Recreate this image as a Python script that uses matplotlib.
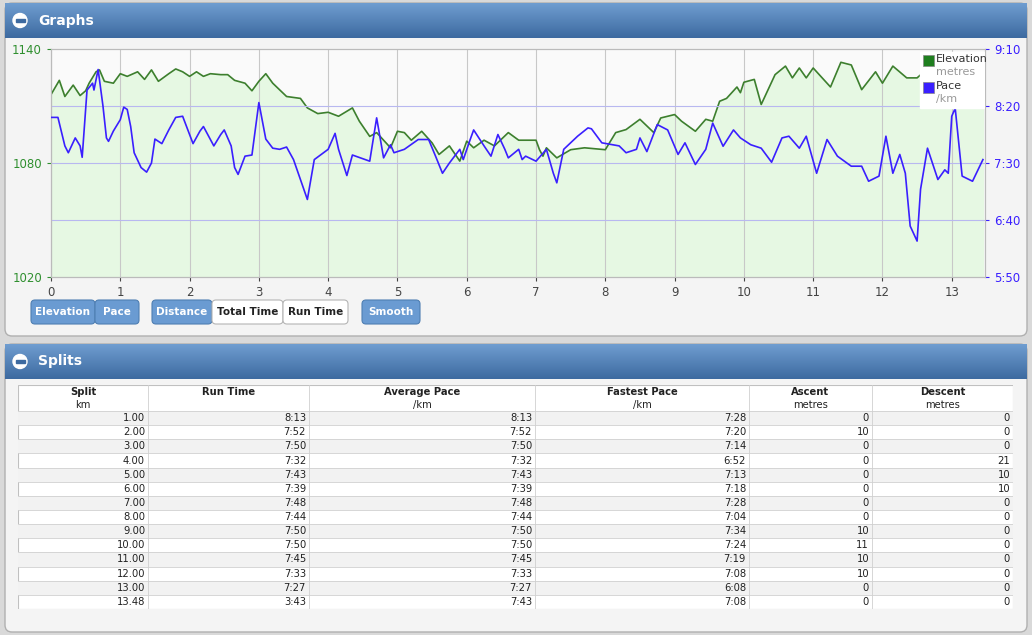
import numpy as np
import matplotlib.pyplot as plt
from matplotlib.patches import FancyBboxPatch, Rectangle, Circle

# ----------------------------
# Data
# ----------------------------
elev_km = [0, 0.12, 0.2, 0.32, 0.42, 0.5, 0.55, 0.65, 0.7, 0.77, 0.9, 1.0, 1.1, 1.25, 1.35,
           1.45, 1.55, 1.7, 1.8, 1.9, 2.0, 2.1, 2.2, 2.3, 2.45, 2.55, 2.65, 2.8, 2.9, 3.0,
           3.1, 3.2, 3.4, 3.6, 3.7, 3.85, 4.0, 4.15, 4.35, 4.45, 4.6, 4.7, 4.9, 5.0, 5.1,
           5.2, 5.35, 5.5, 5.6, 5.75, 5.9, 6.0, 6.1, 6.25, 6.4, 6.6, 6.75, 7.0, 7.05, 7.1,
           7.15, 7.3, 7.5, 7.7, 8.0, 8.15, 8.3, 8.5, 8.7, 8.8, 9.0, 9.1, 9.3, 9.45, 9.55,
           9.65, 9.75, 9.9, 9.95, 10.0, 10.15, 10.25, 10.45, 10.6, 10.7, 10.8, 10.9, 11.0,
           11.25, 11.4, 11.55, 11.7, 11.9, 12.0, 12.15, 12.35, 12.5, 12.6, 12.8, 13.0,
           13.2, 13.45]
elev_m = [1116, 1123.5, 1115, 1121, 1115.5, 1118, 1122, 1128, 1129, 1123, 1122, 1127, 1125.6,
          1128, 1124, 1129, 1123, 1127, 1129.5, 1128, 1125.6, 1128, 1125.6, 1127, 1126.5,
          1126.5, 1123.5, 1122, 1118, 1123, 1127, 1122, 1115, 1114, 1109, 1106, 1106.7,
          1104.6, 1109, 1102, 1094, 1096, 1088, 1096.7, 1096, 1092, 1096.7, 1090.6, 1084.5,
          1089, 1081, 1091.5, 1088, 1092, 1089, 1096, 1092, 1092, 1087, 1083.6, 1088,
          1082.7, 1087, 1088, 1087, 1096, 1097.6, 1103, 1096, 1103.7, 1105.5, 1102, 1096.7,
          1103, 1102, 1112.5, 1114, 1120, 1117, 1122.5, 1124, 1110.8, 1126.5, 1131, 1124.8,
          1130, 1124.8, 1130, 1120, 1133, 1131.6, 1118.6, 1128, 1122, 1131, 1124.8, 1124.8,
          1128, 1132.6, 1134.4, 1127, 1120]

pace_km = [0, 0.1, 0.2, 0.25, 0.35, 0.42, 0.45, 0.52, 0.6, 0.62, 0.68, 0.75, 0.8, 0.83, 0.9,
           1.0, 1.05, 1.1, 1.15, 1.2, 1.3, 1.38, 1.45, 1.5, 1.6, 1.7, 1.8, 1.9, 2.05, 2.15,
           2.2, 2.35, 2.45, 2.5, 2.6, 2.65, 2.7, 2.8, 2.9, 3.0, 3.1, 3.2, 3.3, 3.4, 3.5, 3.6,
           3.7, 3.8, 4.0, 4.1, 4.15, 4.27, 4.35, 4.6, 4.7, 4.8, 4.9, 4.95, 5.1, 5.3, 5.45,
           5.55, 5.65, 5.75, 5.9, 5.95, 6.05, 6.1, 6.25, 6.35, 6.45, 6.55, 6.6, 6.75, 6.8,
           6.85, 7.0, 7.15, 7.25, 7.3, 7.4, 7.6, 7.75, 7.8, 7.95, 8.2, 8.3, 8.45, 8.5, 8.6,
           8.75, 8.9, 9.05, 9.15, 9.3, 9.45, 9.55, 9.7, 9.85, 9.95, 10.1, 10.25, 10.4, 10.55,
           10.65, 10.8, 10.9, 11.05, 11.2, 11.35, 11.55, 11.7, 11.8, 11.95, 12.05, 12.15,
           12.25, 12.33, 12.4, 12.5, 12.55, 12.65, 12.8, 12.9, 12.95, 13.0, 13.05, 13.15,
           13.3, 13.45]
pace_s = [490, 490, 465, 459, 472, 465, 455, 514, 520, 514, 532, 500, 472, 469, 478, 488, 499,
          497, 482, 459, 446, 442, 450, 471, 467, 479, 490, 491, 467, 478, 482, 465, 475, 479,
          465, 446, 440, 456, 457, 503, 471, 463, 462, 464, 453, 435.5, 418, 453, 462, 476,
          462, 439, 457, 451.6, 489.6, 454.5, 466, 459, 462, 470.6, 470.6, 456, 441, 450, 462,
          453, 470.6, 479, 465, 456, 475, 462, 454.5, 462, 453, 456, 451.6, 462, 441, 432.6,
          462, 473.5, 480.8, 480, 467.7, 465, 459, 462, 472, 460, 483.7, 479, 457.5, 467.7,
          448.7, 462, 485, 464.7, 479, 472, 466, 463, 450.7, 472, 473.5, 463, 473.5, 441,
          470.6, 456, 447.2, 447.2, 434, 438.5, 473.5, 441, 457.5, 441, 394.7, 381.5, 427,
          463, 435.5, 444, 441, 491, 498, 438.5, 434, 453]

pace_ticks = [350, 400, 450, 500, 550]
pace_labels = ["5:50", "6:40", "7:30", "8:20", "9:10"]
elev_ticks = [1020, 1080, 1140]

col_titles = ["Split", "Run Time", "Average Pace", "Fastest Pace", "Ascent", "Descent"]
col_units = ["km", "", "/km", "/km", "metres", "metres"]
split_km = ["1.00", "2.00", "3.00", "4.00", "5.00", "6.00", "7.00", "8.00", "9.00", "10.00",
            "11.00", "12.00", "13.00", "13.48"]
run_time = ["8:13", "7:52", "7:50", "7:32", "7:43", "7:39", "7:48", "7:44", "7:50", "7:50",
            "7:45", "7:33", "7:27", "3:43"]
avg_pace = ["8:13", "7:52", "7:50", "7:32", "7:43", "7:39", "7:48", "7:44", "7:50", "7:50",
            "7:45", "7:33", "7:27", "7:43"]
fast_pace = ["7:28", "7:20", "7:14", "6:52", "7:13", "7:18", "7:28", "7:04", "7:34", "7:24",
             "7:19", "7:08", "6:08", "7:08"]
ascent = ["0", "10", "0", "0", "0", "0", "0", "0", "10", "11", "10", "10", "0", "0"]
descent = ["0", "0", "0", "21", "10", "10", "0", "0", "0", "0", "0", "0", "0", "0"]

# ----------------------------
# Helpers (pixel coords, y from top)
# ----------------------------
W, H = 1032, 635
fig = plt.figure(figsize=(W / 100, H / 100), dpi=100)
fig.patch.set_facecolor("#d9d9d9")

# background layer in pixel coordinates
bg = fig.add_axes([0, 0, 1, 1], zorder=-10)
bg.set_xlim(0, W)
bg.set_ylim(H, 0)
bg.set_axis_off()


def fbox(x0, y0, x1, y1):
    return [x0 / W, 1 - y1 / H, (x1 - x0) / W, (y1 - y0) / H]


def panel(y0, y1, title):
    bg.add_patch(FancyBboxPatch((5, y0), 1022, y1 - y0,
                                boxstyle="round,pad=0,rounding_size=7",
                                facecolor="#f4f4f4", edgecolor="#b0b0b0", lw=1))
    hax = fig.add_axes(fbox(5, y0, 1027, y0 + 35))
    grad = np.linspace(0, 1, 50).reshape(-1, 1)
    hax.imshow(grad, aspect="auto", cmap=plt.matplotlib.colors.LinearSegmentedColormap.from_list(
        "h", ["#6f9dd0", "#3d6aa0"]), extent=(0, 1, 0, 1))
    hax.set_xlim(0, 1022)
    hax.set_ylim(35, 0)
    hax.images[0].set_extent((0, 1022, 35, 0))
    hax.set_axis_off()
    hax.add_patch(Circle((15, 17.5), 7, color="white"))
    hax.add_patch(Rectangle((10.5, 16.3), 9, 2.4, color="#3d6aa0"))
    hax.text(33, 17.5, title, color="white", fontweight="bold", fontsize=10, va="center")


panel(3, 336, "Graphs")
panel(344, 632, "Splits")

# ----------------------------
# Graph
# ----------------------------
ax = fig.add_axes(fbox(51, 49, 985, 277))
ax.set_facecolor("#fafafa")
ax.fill_between(elev_km, elev_m, 1020, color="#e6f8e3", zorder=1)
ax.plot(elev_km, elev_m, color="#3d7f2e", lw=1.2, zorder=3)
ax.set_xlim(0, 13.48)
ax.set_ylim(1020, 1140)
ax.set_yticks(elev_ticks)
ax.set_xticks(range(14))
ax.tick_params(axis="y", colors="#2f8f2f", labelsize=8.5, length=3)
ax.tick_params(axis="x", colors="#444444", labelsize=8.5, length=3)
ax.grid(axis="x", color="#c8c8c8", lw=0.8)
for s in ax.spines.values():
    s.set_color("#bbbbbb")

ax2 = ax.twinx()
ax2.set_ylim(350, 550)
ax2.set_yticks(pace_ticks)
ax2.set_yticklabels(pace_labels)
ax2.tick_params(axis="y", colors="#3a1fff", labelsize=8.5, length=3)
for t in pace_ticks[1:-1]:
    ax2.axhline(t, color="#b8b8f0", lw=0.8, zorder=2)
ax2.plot(pace_km, pace_s, color="#3a1fff", lw=1.2, zorder=4)
for s in ax2.spines.values():
    s.set_color("#bbbbbb")

# legend
lx0 = (920 - 51) / 934
ax2.add_patch(Rectangle((lx0, 1 - (108 - 49) / 228), (984 - 920) / 934, 56 / 228,
                        transform=ax2.transAxes, color="white", zorder=5))
for i, (name, unit, c) in enumerate([("Elevation", "metres", "#1f7f1f"),
                                      ("Pace", "/km", "#3a1fff")]):
    yy = 1 - (61 + 27 * i - 49) / 228
    ax2.add_patch(Rectangle((lx0 + 3 / 934, yy - 0.02), 11 / 934, 0.045,
                            transform=ax2.transAxes, facecolor=c, edgecolor="#888",
                            lw=0.5, zorder=6))
    ax2.text(lx0 + 16 / 934, yy + 0.01, name, transform=ax2.transAxes, fontsize=8,
             color="#333333", va="center", zorder=6)
    ax2.text(lx0 + 16 / 934, yy - 0.05, unit, transform=ax2.transAxes, fontsize=8,
             color="#999999", va="center", zorder=6)

# buttons
buttons = [("Elevation", 31, 95, True), ("Pace", 95, 139, True), ("Distance", 152, 212, True),
           ("Total Time", 212, 283, False), ("Run Time", 283, 348, False),
           ("Smooth", 362, 420, True)]
for name, x0, x1, on in buttons:
    bg.add_patch(FancyBboxPatch((x0, 300), x1 - x0, 24,
                                boxstyle="round,pad=0,rounding_size=4",
                                facecolor="#6a9bd2" if on else "white",
                                edgecolor="#4f7fb3" if on else "#b5b5b5", lw=0.8))
    bg.text((x0 + x1) / 2, 312, name, ha="center", va="center", fontsize=7.5,
            fontweight="bold", color="white" if on else "#222222")

# ----------------------------
# Table
# ----------------------------
cols_x = [18, 148, 309, 535, 749, 872, 1013]
tab = fig.add_axes(fbox(18, 385, 1013, 609))
tab.set_xlim(18, 1013)
tab.set_ylim(609, 385)
tab.set_axis_off()
tab.add_patch(Rectangle((18, 385), 995, 224, facecolor="white", edgecolor="#c0c0c0", lw=0.8))
row_h = (609 - 411) / 14
columns = [split_km, run_time, avg_pace, fast_pace, ascent, descent]
for r in range(14):
    y0 = 411 + r * row_h
    if r % 2 == 0:
        tab.add_patch(Rectangle((18, y0), 995, row_h, facecolor="#f2f2f2", lw=0))
    tab.plot([18, 1013], [y0, y0], color="#d0d0d0", lw=0.6)
    for c in range(6):
        tab.text(cols_x[c + 1] - 3, y0 + row_h / 2, columns[c][r], ha="right", va="center",
                 fontsize=7.2, color="#222222")
for x in cols_x[1:-1]:
    tab.plot([x, x], [385, 609], color="#d0d0d0", lw=0.6)
for c in range(6):
    xm = (cols_x[c] + cols_x[c + 1]) / 2
    tab.text(xm, 392, col_titles[c], ha="center", va="center", fontsize=7.2,
             fontweight="bold", color="#222222")
    tab.text(xm, 405, col_units[c], ha="center", va="center", fontsize=7.2, color="#222222")

fig.savefig("out.png", dpi=100, facecolor=fig.get_facecolor())
